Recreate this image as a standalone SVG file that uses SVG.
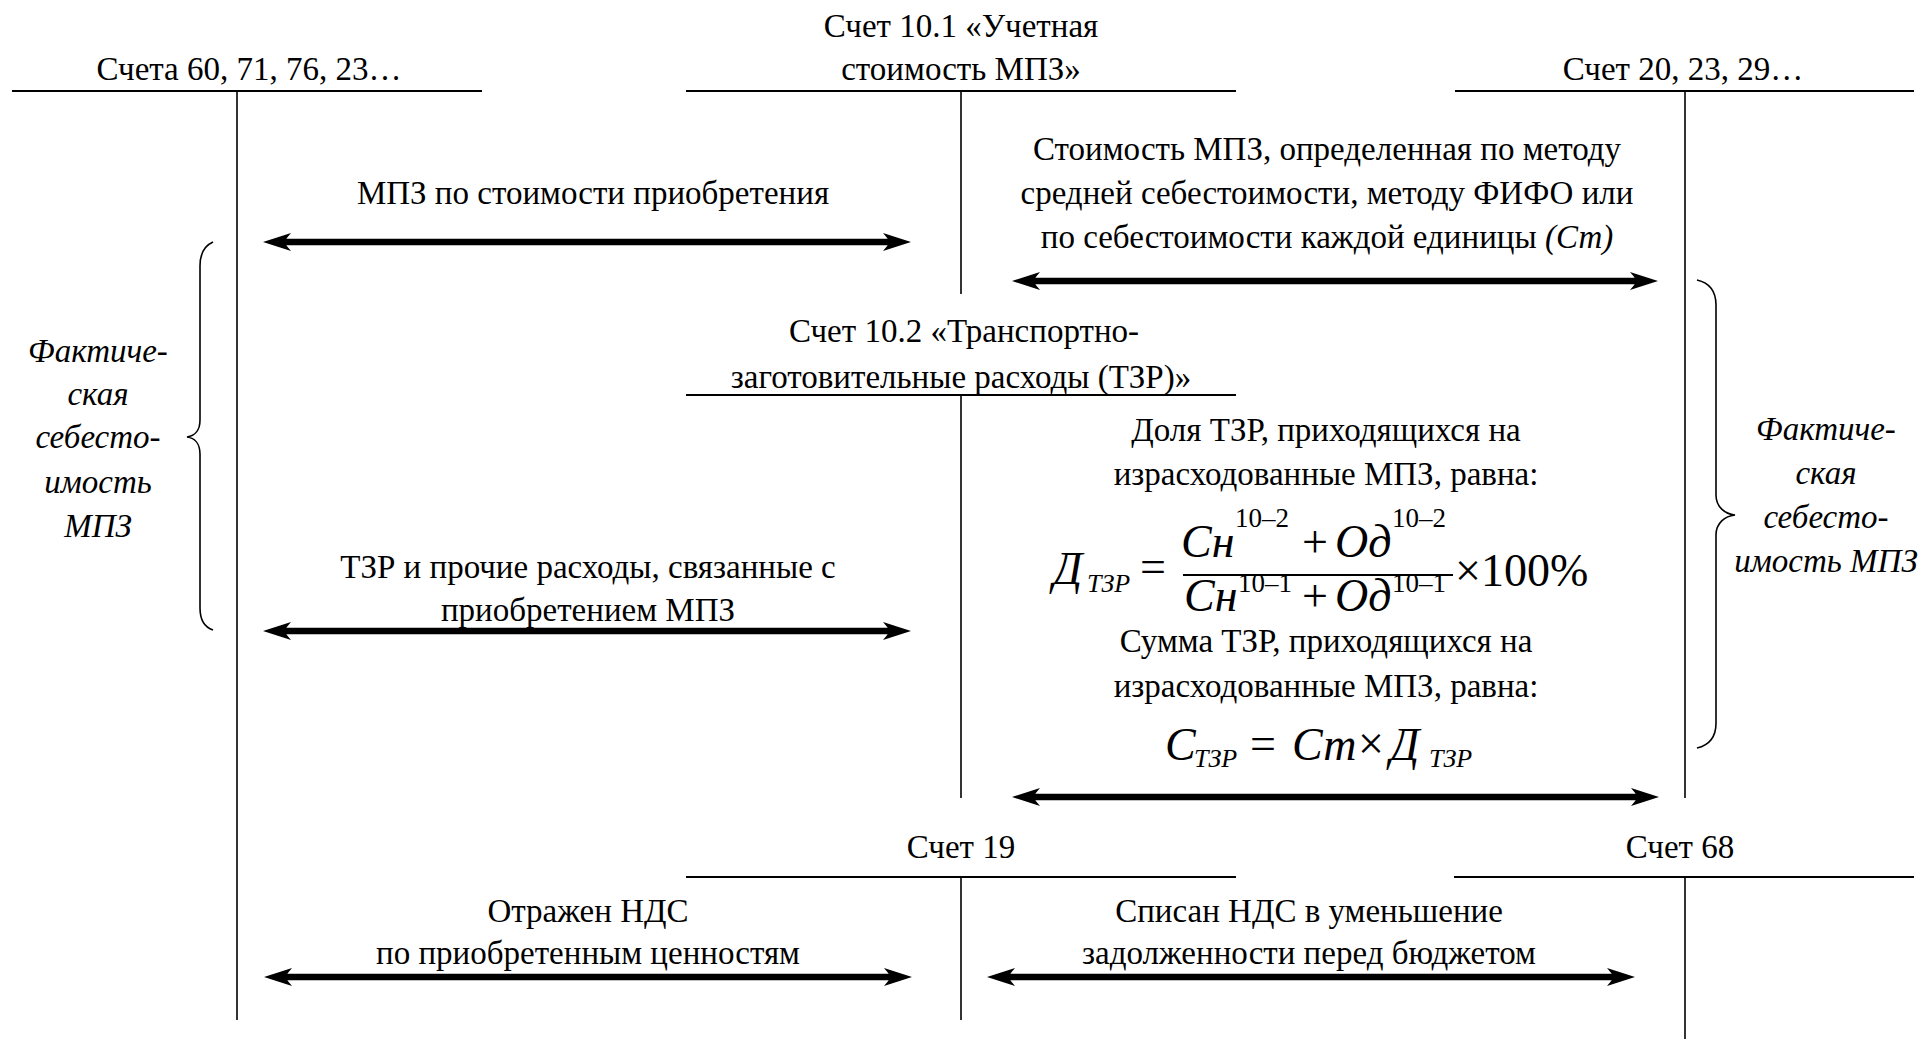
<svg xmlns="http://www.w3.org/2000/svg" width="1922" height="1039" viewBox="0 0 1922 1039" font-family="'Liberation Serif', 'Times New Roman', serif">
<style>
  text { font-family: "Liberation Serif", "Times New Roman", serif; fill: #000; }
  .t { font-size: 33px; text-anchor: middle; }
  .it { font-style: italic; }
  .ln { stroke: #000; stroke-width: 2; fill: none; }
  .vl { stroke: #000; stroke-width: 1.6; fill: none; }
  .arr { stroke: #000; stroke-width: 6.5; fill: none; marker-start: url(#ah); marker-end: url(#ah); }
  .br { stroke: #000; stroke-width: 1.6; fill: none; }
  .f { font-size: 46px; }
  .fs { font-size: 27px; }
  .fi { font-size: 26px; font-style: italic; }
</style>
<defs>
  <marker id="ah" markerUnits="userSpaceOnUse" markerWidth="34" markerHeight="24" viewBox="-31 -12 34 24" refX="-20" refY="0" orient="auto-start-reverse">
    <path d="M0,0 L-28,-9 C-25,-5.5 -23,-3.5 -22,0 C-23,3.5 -25,5.5 -28,9 Z" fill="#000"/>
  </marker>
</defs>
<rect width="1922" height="1039" fill="#fff"/>

<g id="acc-60">
  <text class="t" x="249" y="80">Счета 60, 71, 76, 23…</text>
  <line class="ln" x1="12" y1="91" x2="482" y2="91"/>
  <line class="vl" x1="237" y1="91" x2="237" y2="1020"/>
</g>

<g id="acc-10-1">
  <text class="t" x="961" y="37">Счет 10.1 «Учетная</text>
  <text class="t" x="961" y="80">стоимость МПЗ»</text>
  <line class="ln" x1="686" y1="91" x2="1236" y2="91"/>
  <line class="vl" x1="961" y1="91" x2="961" y2="294"/>
</g>

<g id="acc-20">
  <text class="t" x="1683" y="80">Счет 20, 23, 29…</text>
  <line class="ln" x1="1455" y1="91" x2="1914" y2="91"/>
  <line class="vl" x1="1685" y1="91" x2="1685" y2="798"/>
</g>

<g id="acc-10-2">
  <text class="t" x="964" y="342">Счет 10.2 «Транспортно-</text>
  <text class="t" x="961" y="388">заготовительные расходы (ТЗР)»</text>
  <line class="ln" x1="686" y1="395" x2="1236" y2="395"/>
  <line class="vl" x1="961" y1="395" x2="961" y2="798"/>
</g>

<g id="acc-19">
  <text class="t" x="961" y="858">Счет 19</text>
  <line class="ln" x1="686" y1="877" x2="1236" y2="877"/>
  <line class="vl" x1="961" y1="877" x2="961" y2="1020"/>
</g>

<g id="acc-68">
  <text class="t" x="1680" y="858">Счет 68</text>
  <line class="ln" x1="1454" y1="877" x2="1914" y2="877"/>
  <line class="vl" x1="1685" y1="877" x2="1685" y2="1039"/>
</g>

<g id="brace-left">
  <path class="br" d="M213,242 C204,246 200,254 200,266 L200,420 C200,430 195,436 187,437 C195,438 200,444 200,454 L200,608 C200,620 204,627 213,630"/>
  <text class="t it" x="98" y="362">Фактиче-</text>
  <text class="t it" x="98" y="405">ская</text>
  <text class="t it" x="98" y="448">себесто-</text>
  <text class="t it" x="98" y="493">имость</text>
  <text class="t it" x="98" y="537">МПЗ</text>
</g>

<g id="brace-right">
  <path class="br" d="M1697,280 C1710,283 1716,292 1716,305 L1716,495 C1716,507 1725,514 1735,515 C1725,516 1716,523 1716,535 L1716,723 C1716,736 1710,745 1697,748"/>
  <text class="t it" x="1826" y="440">Фактиче-</text>
  <text class="t it" x="1826" y="484">ская</text>
  <text class="t it" x="1826" y="528">себесто-</text>
  <text class="t it" x="1826" y="572">имость МПЗ</text>
</g>

<g id="labels">
  <text class="t" x="593" y="204">МПЗ по стоимости приобретения</text>
  <text class="t" x="1327" y="160">Стоимость МПЗ, определенная по методу</text>
  <text class="t" x="1327" y="204">средней себестоимости, методу ФИФО или</text>
  <text class="t" x="1327" y="248">по себестоимости каждой единицы <tspan class="it">(Ст)</tspan></text>
  <text class="t" x="588" y="578">ТЗР и прочие расходы, связанные с</text>
  <text class="t" x="588" y="621">приобретением МПЗ</text>
  <text class="t" x="1326" y="441">Доля ТЗР, приходящихся на</text>
  <text class="t" x="1326" y="485">израсходованные МПЗ, равна:</text>
  <text class="t" x="1326" y="652">Сумма ТЗР, приходящихся на</text>
  <text class="t" x="1326" y="697">израсходованные МПЗ, равна:</text>
  <text class="t" x="588" y="922">Отражен НДС</text>
  <text class="t" x="588" y="964">по приобретенным ценностям</text>
  <text class="t" x="1309" y="922">Списан НДС в уменьшение</text>
  <text class="t" x="1309" y="964">задолженности перед бюджетом</text>
</g>

<g id="formula-d">
  <text class="f it" x="1053" y="584">Д</text>
  <text class="fi" x="1087" y="592">ТЗР</text>
  <text class="f" x="1140" y="582">=</text>
  <line class="ln" x1="1183" y1="575" x2="1453" y2="575"/>
  <text class="f it" x="1181" y="557">Сн</text>
  <text class="fs" x="1235" y="527">10–2</text>
  <text class="f" x="1302" y="557">+</text>
  <text class="f it" x="1335" y="557">Од</text>
  <text class="fs" x="1392" y="527">10–2</text>
  <text class="f it" x="1184" y="611">Сн</text>
  <text class="fs" x="1238" y="592">10–1</text>
  <text class="f" x="1302" y="611">+</text>
  <text class="f it" x="1335" y="611">Од</text>
  <text class="fs" x="1392" y="592">10–1</text>
  <text class="f" x="1455" y="586">×100%</text>
</g>

<g id="formula-c">
  <text class="f it" x="1165" y="760">С</text>
  <text class="fi" x="1194" y="767">ТЗР</text>
  <text class="f" x="1250" y="759">=</text>
  <text class="f it" x="1292" y="760">Ст</text>
  <text class="f" x="1358" y="759">×</text>
  <text class="f it" x="1390" y="760">Д</text>
  <text class="fi" x="1429" y="767">ТЗР</text>
</g>

<g id="connectors">
  <line class="arr" x1="283" y1="242" x2="891" y2="242"/>
  <line class="arr" x1="1032" y1="281" x2="1638" y2="281"/>
  <line class="arr" x1="283" y1="631" x2="891" y2="631"/>
  <line class="arr" x1="1032" y1="797" x2="1639" y2="797"/>
  <line class="arr" x1="284" y1="977" x2="892" y2="977"/>
  <line class="arr" x1="1007" y1="977" x2="1615" y2="977"/>
</g>
</svg>
